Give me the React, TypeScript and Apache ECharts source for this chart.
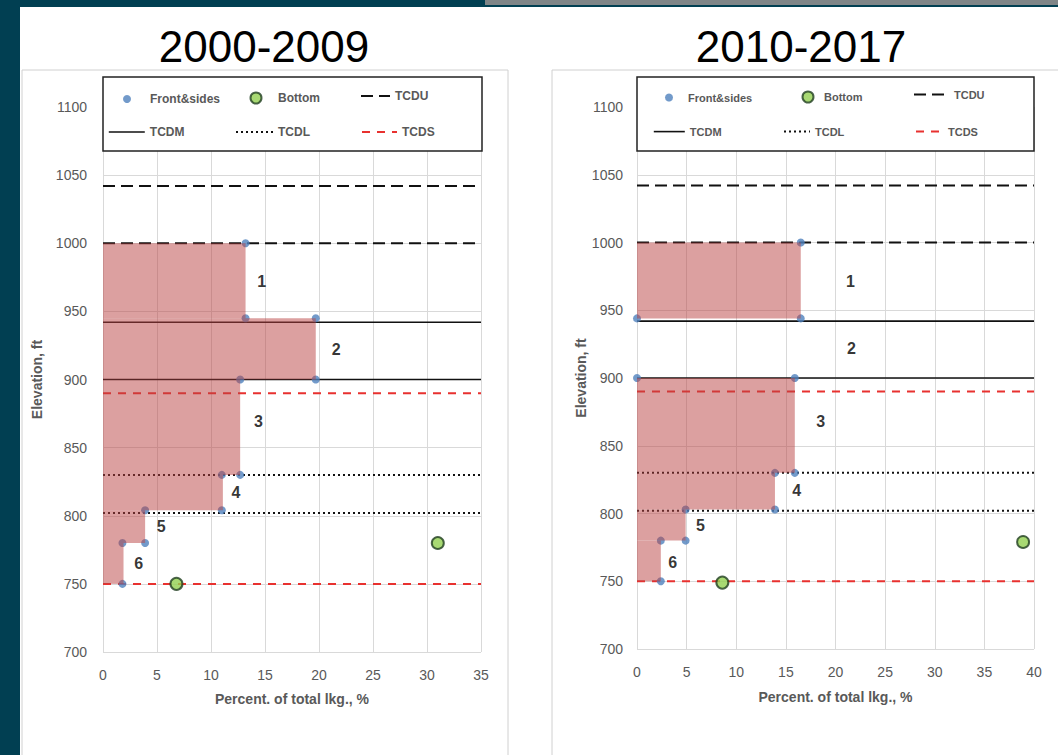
import React, { useEffect, useRef } from 'react';
import * as echarts from 'echarts';

// ---------- data ----------
const PERIODS = ['2000-2009', '2010-2017'];
const X_MAX = [35, 40];
const X_STEP = 5;
const Y_MIN = 700;
const Y_MAX = 1100;
const Y_STEP = 50;

// threshold elevations (ft)
const TCDU = [1042, 1000];
const TCDM = [942, 900];
const TCDL = [830, 802];
const TCDS = [890, 750];

// Front & sides leakage points [percent, elevation]
const FRONT_SIDES_0009 = [
  [13.2, 1000], [13.2, 945], [19.7, 945], [19.7, 900], [12.7, 900], [12.7, 830],
  [11.0, 830], [11.0, 804], [3.9, 804], [3.9, 780], [1.8, 780], [1.8, 750],
];
const FRONT_SIDES_1017 = [
  [16.5, 1000], [16.5, 944], [0, 944], [0, 900], [15.9, 900], [15.9, 830],
  [13.9, 830], [13.9, 803], [4.9, 803], [4.9, 780], [2.4, 780], [2.4, 750],
];
// Bottom leakage points
const BOTTOM_0009 = [[6.8, 750], [31.0, 780]];
const BOTTOM_1017 = [[8.6, 749], [38.9, 779]];

// shaded bands [percent, top elevation, bottom elevation]
const BANDS_0009 = [
  [13.2, 1000, 945], [19.7, 945, 900], [12.7, 900, 830],
  [11.1, 830, 804], [3.9, 804, 780], [1.9, 780, 750],
];
const BANDS_1017 = [
  [16.5, 1000, 944], [0, 944, 900], [15.9, 900, 830],
  [13.9, 830, 803], [4.9, 803, 780], [2.4, 780, 750],
];

// zone numbers [label, percent, elevation]
const ZONES_0009 = [
  ['1', 14.7, 972], ['2', 21.6, 922], ['3', 14.4, 869],
  ['4', 12.3, 817], ['5', 5.4, 792], ['6', 3.3, 765],
];
const ZONES_1017 = [
  ['1', 21.5, 971], ['2', 21.6, 922], ['3', 18.5, 868],
  ['4', 16.1, 817], ['5', 6.4, 791], ['6', 3.6, 764],
];

const X_NAME = 'Percent. of total lkg., %';
const Y_NAME = 'Elevation, ft';

// ---------- styles ----------
const FONT = '"Liberation Sans", Arial, sans-serif';
const GRAY_TEXT = '#595959';
const GRID_LINE = '#d9d9d9';
const FILL = 'rgba(185, 65, 65, 0.5)';
const BLUE = '#4f81bd';
const GREEN = '#92d050';
const GREEN_BORDER = '#1f3d1f';
const RED = '#e8312f';

const LINE_STYLES: Record<string, any> = {
  TCDU: { color: '#111', width: 2, type: [12, 6] },
  TCDM: { color: '#111', width: 1.6, type: 'solid' },
  TCDL: { color: '#111', width: 2, type: [2, 3] },
  TCDS: { color: RED, width: 2, type: [8, 7] },
};
const LINES: Record<string, number[]> = { TCDU, TCDM, TCDL, TCDS };

const GRIDS = [
  { left: 103, top: 107, width: 378, height: 545 },
  { left: 637, top: 107, width: 397, height: 542 },
];

export default function App() {
  const ref = useRef<HTMLDivElement>(null);

  useEffect(() => {
    document.body.style.margin = '0';
    const chart = echarts.init(ref.current!, null, { renderer: 'svg' });

    const xAxes: any[] = [];
    const yAxes: any[] = [];
    const series: any[] = [];
    const datasets = [
      { fs: FRONT_SIDES_0009, bot: BOTTOM_0009, bands: BANDS_0009, zones: ZONES_0009 },
      { fs: FRONT_SIDES_1017, bot: BOTTOM_1017, bands: BANDS_1017, zones: ZONES_1017 },
    ];

    const yNameGap = [59, 45];
    const xNameGap = [40, 41];
    const yLabelMargin = [16, 14];

    datasets.forEach((d, i) => {
      xAxes.push({
        type: 'value', gridIndex: i, min: 0, max: X_MAX[i], interval: X_STEP,
        name: X_NAME, nameLocation: 'middle', nameGap: xNameGap[i],
        nameTextStyle: { fontFamily: FONT, fontSize: 14, fontWeight: 'bold', color: GRAY_TEXT },
        axisLine: { show: false }, axisTick: { show: false },
        axisLabel: { fontFamily: FONT, fontSize: 14, color: GRAY_TEXT, margin: 16, formatter: (v: number) => String(v) },
        splitLine: { show: true, lineStyle: { color: GRID_LINE, width: 1 } },
      });
      yAxes.push({
        type: 'value', gridIndex: i, min: Y_MIN, max: Y_MAX, interval: Y_STEP,
        name: Y_NAME, nameLocation: 'middle', nameGap: yNameGap[i],
        nameTextStyle: { fontFamily: FONT, fontSize: 14, fontWeight: 'bold', color: GRAY_TEXT },
        axisLine: { show: false }, axisTick: { show: false },
        axisLabel: { fontFamily: FONT, fontSize: 14, color: GRAY_TEXT, margin: yLabelMargin[i], formatter: (v: number) => String(v) },
        splitLine: { show: true, lineStyle: { color: GRID_LINE, width: 1 } },
      });

      // threshold lines
      Object.keys(LINES).forEach((name) => {
        LINES[name].forEach((elev) => {
          series.push({
            type: 'line', name, xAxisIndex: i, yAxisIndex: i,
            data: [[0, elev], [X_MAX[i], elev]],
            symbol: 'none', lineStyle: LINE_STYLES[name], itemStyle: { color: LINE_STYLES[name].color },
            silent: true, z: 2,
          });
        });
      });

      series.push({
        type: 'scatter', name: 'Front&sides', xAxisIndex: i, yAxisIndex: i,
        data: d.fs, symbol: 'circle', symbolSize: 8,
        itemStyle: { color: BLUE }, z: 3, silent: true,
      });
      series.push({
        type: 'scatter', name: 'Bottom', xAxisIndex: i, yAxisIndex: i,
        data: d.bot, symbol: 'circle', symbolSize: 12,
        itemStyle: { color: GREEN, borderColor: GREEN_BORDER, borderWidth: 2 }, z: 5, silent: true,
      });
      series.push({
        type: 'custom', name: 'zones-fill', xAxisIndex: i, yAxisIndex: i,
        data: d.bands, silent: true, z: 4,
        renderItem: (params: any, api: any) => {
          const x = api.value(0);
          const top = api.coord([0, api.value(1)]);
          const bot = api.coord([x, api.value(2)]);
          return {
            type: 'rect',
            shape: { x: top[0], y: top[1], width: bot[0] - top[0], height: bot[1] - top[1] },
            style: { fill: FILL },
          };
        },
      });
      series.push({
        type: 'scatter', name: 'zone-labels', xAxisIndex: i, yAxisIndex: i,
        data: d.zones.map((z: any) => ({ name: z[0], value: [z[1], z[2]] })),
        symbolSize: 0, silent: true, z: 6,
        label: {
          show: true, position: 'inside', formatter: '{b}',
          fontFamily: FONT, fontSize: 16, fontWeight: 'bold', color: '#000',
        },
      });
    });

    const mkLegend = (name: string, left: number, top: number, w: number, h: number, fs: number, extra: any = {}) => ({
      data: [name], left, top, itemWidth: w, itemHeight: h, padding: 0, z: 10,
      selectedMode: false,
      textStyle: { fontFamily: FONT, fontSize: fs, fontWeight: 'bold', color: GRAY_TEXT },
      ...extra,
    });
    const bottomIcon = { itemStyle: { color: GREEN, borderColor: GREEN_BORDER, borderWidth: 2 } };
    const blueIcon = { itemStyle: { color: BLUE } };
    const lineIcon = (name: string) => ({
      itemStyle: { opacity: 0, color: 'transparent', borderWidth: 0 },
      lineStyle: { ...LINE_STYLES[name] },
    });

    const legends = [
      mkLegend('Front&sides', 123, 93, 36, 8, 12, blueIcon),
      mkLegend('Bottom', 249.5, 91.5, 34, 11, 12, bottomIcon),
      mkLegend('TCDU', 360, 90, 29, 14, 12, lineIcon('TCDU')),
      mkLegend('TCDM', 108, 126, 36, 14, 12, lineIcon('TCDM')),
      mkLegend('TCDL', 235, 126, 37, 14, 12, lineIcon('TCDL')),
      mkLegend('TCDS', 361, 126, 35, 14, 12, lineIcon('TCDS')),
      mkLegend('Front&sides', 665, 92, 28, 8, 11, blueIcon),
      mkLegend('Bottom', 801.5, 90.5, 22, 11, 11, bottomIcon),
      mkLegend('TCDU', 913, 89, 35, 14, 11, lineIcon('TCDU')),
      mkLegend('TCDM', 653, 126, 31, 14, 11, lineIcon('TCDM')),
      mkLegend('TCDL', 783, 126, 26, 14, 11, lineIcon('TCDL')),
      mkLegend('TCDS', 915, 126, 27, 14, 11, lineIcon('TCDS')),
    ];

    const option: any = {
      animation: false,
      backgroundColor: '#013f52',
      textStyle: { fontFamily: FONT },
      grid: GRIDS.map((g) => ({ ...g, containLabel: false })),
      xAxis: xAxes,
      yAxis: yAxes,
      legend: legends,
      series,
      graphic: [
        { type: 'rect', z: -10, shape: { x: 485, y: 0, width: 573, height: 5 }, style: { fill: '#7f8587' } },
        { type: 'rect', z: -9, shape: { x: 20, y: 7, width: 1038, height: 748 }, style: { fill: '#ffffff' } },
        { type: 'rect', z: -8, shape: { x: 22, y: 70, width: 486, height: 700 }, style: { fill: '#fff', stroke: '#d0d0d0', lineWidth: 1 } },
        { type: 'rect', z: -8, shape: { x: 552, y: 70, width: 520, height: 700 }, style: { fill: '#fff', stroke: '#d0d0d0', lineWidth: 1 } },
        { type: 'rect', z: 3, shape: { x: 103, y: 77, width: 379, height: 74 }, style: { fill: '#fff', stroke: '#222', lineWidth: 1.5 } },
        { type: 'rect', z: 3, shape: { x: 637, y: 77, width: 397, height: 74 }, style: { fill: '#fff', stroke: '#222', lineWidth: 1.5 } },
        { type: 'text', z: 3, x: 264, y: 46, style: { text: PERIODS[0], fontFamily: FONT, fontSize: 44, fill: '#000', align: 'center', verticalAlign: 'middle' } },
        { type: 'text', z: 3, x: 801, y: 46, style: { text: PERIODS[1], fontFamily: FONT, fontSize: 44, fill: '#000', align: 'center', verticalAlign: 'middle' } },
      ],
    };

    chart.setOption(option);
    return () => chart.dispose();
  }, []);

  return <div ref={ref} style={{ width: 1058, height: 755 }} />;
}
